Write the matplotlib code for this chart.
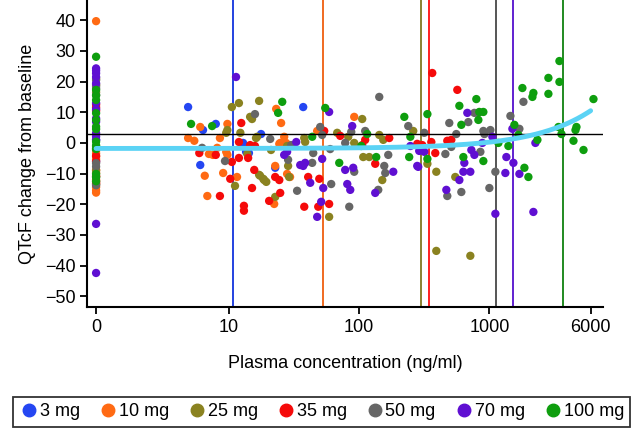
import matplotlib

matplotlib.use("Agg")
import matplotlib.pyplot as plt
import numpy as np
from matplotlib.lines import Line2D

plt.rcParams["font.family"] = ["Liberation Sans", "DejaVu Sans"]

# concentration (ng/ml), 0 = placebo / below LLOQ; QTcF change (ms)
dose_labels = ["3 mg", "10 mg", "25 mg", "35 mg", "50 mg", "70 mg", "100 mg"]
dose_colors = ["#2446F2", "#FF6A13", "#8A8220", "#F50A0A", "#666666", "#5F0FD2", "#0E9E0E"]
vline_colors = ["#2442E0", "#F06A20", "#8A8230", "#FF2020", "#555555", "#6020D0", "#208A20"]
mean_cmax = [10.7, 52.9, 300, 345, 1132, 1532, 3648]

conc_3 = [0, 0,
          4.84, 6.3, 7.9, 6.0, 17.6, 12.8, 13.5, 14.2, 37.1, 22.6]
qtc_3 = [-6.0, 1.0,
         11.7, 4.2, 6.2, -7.2, 2.9, 0.0, -2.9, -3.3, 11.7, -8.1]

conc_10 = [0, 0, 0, 0, 0, 0, 0, 0, 0, 0, 0,
           6.0, 9.7, 4.84, 5.4, 8.5, 7.0, 7.5, 9.7, 8.1, 9.5, 9.0, 6.5, 11.5, 6.8,
           23.0, 25.1, 24.3, 26.5, 27.4, 22.6, 27.9, 29.4, 22.2, 47.5, 91.5, 24.7]
qtc_10 = [39.7, -3.4, -5.3, -8.8, -14.4, -16.2, -15.5, -2.5, -9.8, -12.0, -4.5,
          5.2, 6.2, 1.6, 0.7, 1.6, -3.6, -3.9, -3.9, -1.6, -2.9, -9.8, -10.7, -11.1, -17.3,
          11.1, 6.5, -0.3, 2.0, 0.0, -7.5, -10.1, -11.1, -19.9, 3.9, 8.5, 0.0]

conc_25 = [0, 0, 0, 0, 0, 0, 0, 0,
           10.5, 11.9, 17.0, 14.5, 15.0, 9.7, 9.5, 12.2, 16.1, 13.8, 17.0, 18.6, 11.1,
           17.3, 18.3, 19.3, 22.6, 16.4, 21.0, 27.9, 28.4, 28.9, 37.8, 38.4, 67.7, 82.3,
           91.5, 105.4, 107.3, 119.3, 142.5, 153, 150.3, 58.7, 260, 334, 391, 547, 391, 714]
qtc_25 = [21.0, -1.2, -13.5, -9.0, 16.5, -2.0, -11.0, 19.0,
          11.7, 13.0, 13.7, 8.5, 7.8, 4.2, 3.3, 3.3, 1.6, -3.6, -10.4, -12.1, -14.0,
          -10.7, -11.7, -12.7, -17.6, 2.0, -2.3, -1.0, -7.5, -11.1, 1.6, 0.3, 3.3, 2.0,
          0.0, 7.8, -4.6, -4.6, 2.6, 1.0, -12.1, -24.1, 3.9, -6.8, -9.4, -11.1, -35.2, -36.8]

conc_35 = [0, 0, 0, 0, 0, 0, 0, 0,
           12.4, 11.9, 14.5, 15.8, 5.9, 7.9, 10.5, 11.9, 14.0, 15.6, 10.2, 15.0, 8.5,
           13.0, 13.0, 53.8, 71.4, 111.1, 105.4, 170.1, 279, 132.7, 22.6, 24.3, 24.7,
           20.3, 40.5, 49.3, 37.8, 48.4, 58.7, 364, 567, 305, 358, 475, 510, 384]
qtc_35 = [11.6, -4.2, -12.6, -13.2, 12.5, -6.0, 10.5, -10.8,
          6.5, 0.3, -0.7, -1.0, -3.3, -3.9, -6.2, -4.9, -4.9, -8.8, -11.7, -14.7, -17.3,
          -20.5, -22.1, 3.9, 2.3, 1.0, -0.7, 1.6, -0.3, -6.8, -11.1, -12.1, -16.3,
          -18.9, -11.1, -11.7, -20.8, -20.8, -19.9, 22.8, 17.3, -0.7, 0.3, 0.7, 1.0, -3.3]

conc_50 = [0, 0, 0, 0, 0, 0, 0, 0,
           15.8, 9.3, 6.2, 20.7, 30.0, 28.4, 50.1, 51.9, 44.3, 43.5, 59.8, 78.0, 86.8,
           111.1, 142.5, 91.5, 155.7, 158.5, 167.1, 140, 60.9, 33.3, 83.8, 238, 316, 492,
           689, 767, 823, 557, 899, 1018, 916, 459, 510, 853, 1112, 1000, 475, 609,
           1451, 1701, 1827]
qtc_50 = [17.8, 15.6, -6.6, -7.7, 18.5, 20.5, -1.8, -13.8,
          9.4, -5.9, -1.6, 1.3, -0.7, -5.5, 5.2, 2.6, -3.3, -6.5, -2.0, 0.0, 3.6,
          3.9, 15.0, -9.4, -7.5, -9.8, -3.9, -15.3, -13.4, -15.6, -20.8, 5.5, 3.3, 6.5,
          6.8, 9.8, 9.8, 2.9, 3.9, 4.2, 2.9, -3.6, -1.3, -2.9, -9.4, -14.7, -17.3, -16.0,
          8.8, 4.6, 13.4]

conc_70 = [0, 0, 0, 0, 0, 0, 0, 0, 0, 0, 0, 0, 0, 0,
           11.3, 58.7, 88.3, 32.8, 26.5, 27.9, 51.9, 35.2, 37.1, 38.4, 78.0, 89.9, 42.0,
           52.9, 51.0, 47.5, 80.9, 85.3, 132.7, 182.6, 247, 279, 289, 316, 284, 677,
           1055, 883, 727, 767, 642, 631, 714, 588, 467, 1112, 1503, 2258, 1351, 1530,
           1327, 1701, 2179]
qtc_70 = [24.3, 23.6, 22.7, 19.4, 13.0, 8.0, 6.9, 3.2, 2.1, -26.4, -42.4, 21.5, 11.0, 1.0,
          21.5, 10.1, 5.5, 0.3, -3.9, -2.9, -5.2, -7.2, -7.5, -6.5, -8.8, -8.1, -13.0,
          -14.7, -19.2, -24.1, -13.4, -15.3, -16.3, -9.4, -1.0, -7.5, -2.6, -2.9, -7.8, 9.8,
          2.0, 0.0, -2.3, -3.9, -6.5, -9.4, -9.4, -12.1, -15.3, -23.1, 4.6, 0.0, -4.6, -6.5,
          -9.8, -10.1, -22.5]

conc_100 = [0, 0, 0, 0, 0, 0, 0, 0, 0, 0, 0, 0, 0, 0,
            5.1, 7.4, 25.6, 23.8, 54.8, 43.5, 70.2, 115.1, 103.6, 135.1, 222, 334, 247,
            242, 334, 588, 794, 837, 899, 609, 823, 631, 899, 1173, 1400, 1557, 1671,
            1794, 2142, 2179, 2842, 2842, 3455, 3455, 2340, 1859, 1995, 3395, 3580, 4590,
            4670, 4430, 5290, 6310]
qtc_100 = [28.1, 17.3, 14.0, 9.7, 5.3, 4.5, 0.4, -10.1, -11.2, -2.0, 15.5, 7.5, -0.8, -12.5,
           6.2, 5.5, 13.4, 9.8, 11.4, 2.0, -6.5, 2.9, -1.0, -4.6, 8.5, 9.4, 2.0,
           -4.6, -5.2, 12.1, 14.3, 10.1, 10.1, 5.9, 7.5, -4.6, -5.9, 0.0, -1.0, 5.9, 2.6,
           17.9, 15.0, 16.3, 16.0, 21.2, 26.7, 19.9, 1.0, -8.1, -11.1, 5.2, 2.9, 4.2,
           5.2, 0.7, -2.3, 14.3]

all_conc = [conc_3, conc_10, conc_25, conc_35, conc_50, conc_70, conc_100]
all_qtc = [qtc_3, qtc_10, qtc_25, qtc_35, qtc_50, qtc_70, qtc_100]

# exposure-response model: linear in concentration
intercept = -1.8
slope = 0.00205
threshold = 3.0

ZERO_POS = 0.95  # where "0" sits on the log axis

fig = plt.figure(figsize=(6.31, 4.30), dpi=100)
ax = fig.add_axes([0.138, 0.286, 0.818, 0.714])

for c, col in zip(mean_cmax, vline_colors):
    ax.axvline(c, color=col, lw=1.4, zorder=1)

for conc, qtc, col in zip(all_conc, all_qtc, dose_colors):
    conc = np.asarray(conc, dtype=float)
    x = np.where(conc == 0, ZERO_POS, conc)
    ax.scatter(x, qtc, s=36, color=col, edgecolors="none", zorder=2)

ax.axhline(threshold, color="black", lw=1.0, zorder=3)

cc = np.geomspace(ZERO_POS, 6000, 300)
ax.plot(cc, intercept + slope * cc, color="#5BD3F5", lw=3.5, solid_capstyle="round", zorder=4)

ax.set_xscale("log")
ax.set_xlim(0.81, 7500)
ax.set_ylim(-53.5, 46.6)
ax.set_xticks([ZERO_POS, 10, 100, 1000, 6000])
ax.set_xticklabels(["0", "10", "100", "1000", "6000"])
ax.xaxis.set_minor_locator(matplotlib.ticker.NullLocator())
ax.set_yticks(np.arange(-50, 41, 10))

for side in ["top", "right"]:
    ax.spines[side].set_visible(False)
for side in ["left", "bottom"]:
    ax.spines[side].set_linewidth(1.5)
ax.tick_params(axis="both", labelsize=13, width=1.3, length=5)
ax.set_xlabel("Plasma concentration (ng/ml)", fontsize=13, labelpad=14)
ax.set_ylabel("QTcF change from baseline", fontsize=13, labelpad=6)

handles = [Line2D([], [], marker="o", ls="none", color=col, markersize=9) for col in dose_colors]
leg = fig.legend(handles, dose_labels, loc="center", bbox_to_anchor=(0.51, 0.042), ncol=7,
                 fontsize=13, frameon=True, fancybox=False, edgecolor="black",
                 handletextpad=0.1, columnspacing=1.05, handlelength=1.0, borderpad=0.35)
leg.get_frame().set_linewidth(1.3)

fig.savefig("out.png", dpi=100)
